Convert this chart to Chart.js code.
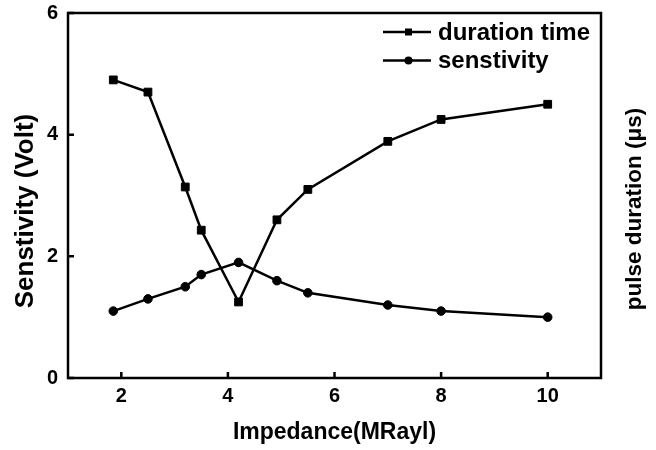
<!DOCTYPE html>
<html>
<head>
<meta charset="utf-8">
<script src="https://cdn.jsdelivr.net/npm/chart.js@4/dist/chart.umd.min.js"></script>
<style>
  html, body { margin: 0; padding: 0; background: #fff; }
  #wrap { width: 656px; height: 450px; }
</style>
</head>
<body>
<div id="wrap"><canvas id="chart" width="656" height="450"></canvas></div>
<script>
// ─── Data ────────────────────────────────────────────────────
const impedance    = [1.85, 2.5, 3.2, 3.5, 4.2, 4.92, 5.5, 7, 8, 10];
const durationTime = [4.9, 4.7, 3.14, 2.43, 1.25, 2.6, 3.1, 3.89, 4.25, 4.5];
const sensitivity  = [1.1, 1.3, 1.5, 1.7, 1.9, 1.6, 1.4, 1.2, 1.1, 1.0];

const xTicks = [2, 4, 6, 8, 10];
const yTicks = [0, 2, 4, 6];

const seriesLabels = ['duration time', 'senstivity'];
const xTitle      = 'Impedance(MRayl)';
const yTitle      = 'Senstivity (Volt)';
const yRightTitle = 'pulse duration (\u03bcs)';

const FONT = '"Liberation Sans", Arial, sans-serif';

const toPoints = (ys) => impedance.map((x, i) => ({ x, y: ys[i] }));

// vertical text, reading bottom to top
function drawVertical(ctx, text, x, y, size) {
  ctx.save();
  ctx.font = `bold ${size}px ${FONT}`;
  ctx.textAlign = 'center';
  ctx.textBaseline = 'middle';
  ctx.fillStyle = '#000';
  ctx.translate(x, y);
  ctx.rotate(-Math.PI / 2);
  ctx.fillText(text, 0, 0);
  ctx.restore();
}

// ─── Frame, inward ticks, legend, side titles ────────────────
const decorations = {
  id: 'decorations',
  afterDatasetsDraw(chart) {
    const { ctx, chartArea: a, scales } = chart;
    ctx.save();
    ctx.strokeStyle = '#000';
    ctx.lineWidth = 2.5;
    ctx.strokeRect(a.left, a.top, a.right - a.left, a.bottom - a.top);

    // inward tick marks
    ctx.beginPath();
    xTicks.forEach((v) => {
      const px = scales.x.getPixelForValue(v);
      ctx.moveTo(px, a.bottom);
      ctx.lineTo(px, a.bottom - 6);
    });
    yTicks.forEach((v) => {
      const py = scales.y.getPixelForValue(v);
      ctx.moveTo(a.left, py);
      ctx.lineTo(a.left + 6, py);
    });
    ctx.stroke();

    // legend
    ctx.font = `bold 24px ${FONT}`;
    ctx.textBaseline = 'middle';
    ctx.textAlign = 'left';
    ctx.fillStyle = '#000';
    chart.data.datasets.forEach((ds, i) => {
      const y = 32 + i * 28.5;
      ctx.lineWidth = 2.5;
      ctx.beginPath();
      ctx.moveTo(383, y);
      ctx.lineTo(431, y);
      ctx.stroke();
      ctx.beginPath();
      if (ds.pointStyle === 'rect') ctx.rect(405, y - 3.5, 7, 7);
      else ctx.arc(408.5, y, 4, 0, Math.PI * 2);
      ctx.fill();
      ctx.fillText(ds.label, 438, y + 1);
    });
    ctx.restore();

    drawVertical(ctx, yTitle, 26, 211, 26);
    drawVertical(ctx, yRightTitle, 635, 209, 22.5);
  },
};

new Chart(document.getElementById('chart'), {
  type: 'line',
  data: {
    datasets: [
      {
        label: seriesLabels[0],
        data: toPoints(durationTime),
        borderColor: '#000',
        backgroundColor: '#000',
        borderWidth: 2.5,
        pointStyle: 'rect',
        pointRadius: 5.5,
        pointBorderWidth: 1,
        tension: 0,
      },
      {
        label: seriesLabels[1],
        data: toPoints(sensitivity),
        borderColor: '#000',
        backgroundColor: '#000',
        borderWidth: 2.5,
        pointStyle: 'circle',
        pointRadius: 4.3,
        pointBorderWidth: 1,
        tension: 0,
      },
    ],
  },
  options: {
    responsive: false,
    animation: false,
    devicePixelRatio: 1,
    layout: { padding: { left: 0, right: 55, top: 13, bottom: 0 } },
    plugins: { legend: { display: false }, tooltip: { enabled: false } },
    scales: {
      x: {
        type: 'linear',
        min: 1,
        max: 11,
        afterBuildTicks: (axis) => { axis.ticks = xTicks.map((v) => ({ value: v })); },
        afterFit: (axis) => {
          axis.height = 72;
          axis.paddingLeft = 0;
          axis.paddingRight = 0;
        },
        grid: { display: false, drawTicks: false },
        border: { display: false },
        ticks: { color: '#000', padding: 6, font: { family: FONT, size: 20, weight: 'bold' } },
        title: {
          display: true,
          text: xTitle,
          color: '#000',
          padding: { top: 0, bottom: 4 },
          font: { family: FONT, size: 23, weight: 'bold' },
        },
      },
      y: {
        min: 0,
        max: 6,
        afterBuildTicks: (axis) => { axis.ticks = yTicks.map((v) => ({ value: v })); },
        afterFit: (axis) => {
          axis.width = 68;
          axis.paddingTop = 0;
          axis.paddingBottom = 0;
        },
        grid: { display: false, drawTicks: false },
        border: { display: false },
        ticks: { color: '#000', padding: 10, font: { family: FONT, size: 20, weight: 'bold' } },
      },
    },
  },
  plugins: [decorations],
});
</script>
</body>
</html>
